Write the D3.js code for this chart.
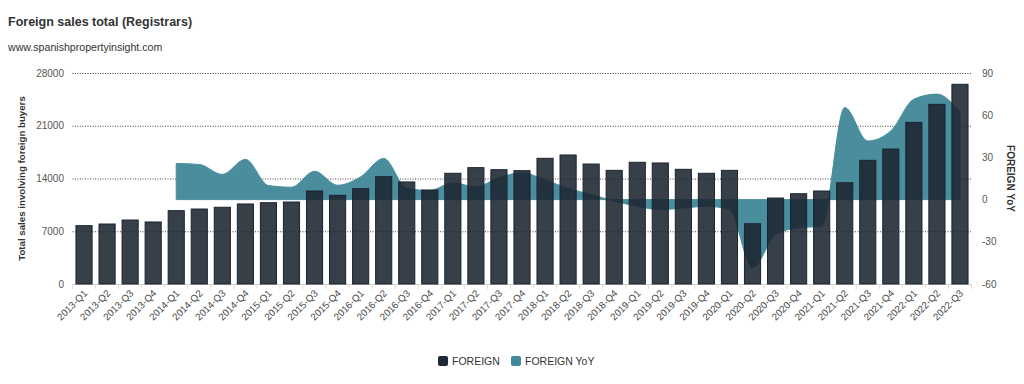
<!DOCTYPE html>
<html>
<head>
<meta charset="utf-8">
<script src="https://cdn.jsdelivr.net/npm/d3@7/dist/d3.min.js"></script>
<style>
  html, body { margin: 0; padding: 0; background: #fff; }
  svg { display: block; font-family: "Liberation Sans", Arial, Helvetica, sans-serif; }
</style>
</head>
<body>
<svg id="chart" width="1024" height="384"></svg>
<script>
const categories = [
  "2013-Q1","2013-Q2","2013-Q3","2013-Q4",
  "2014-Q1","2014-Q2","2014-Q3","2014-Q4",
  "2015-Q1","2015-Q2","2015-Q3","2015-Q4",
  "2016-Q1","2016-Q2","2016-Q3","2016-Q4",
  "2017-Q1","2017-Q2","2017-Q3","2017-Q4",
  "2018-Q1","2018-Q2","2018-Q3","2018-Q4",
  "2019-Q1","2019-Q2","2019-Q3","2019-Q4",
  "2020-Q1","2020-Q2","2020-Q3","2020-Q4",
  "2021-Q1","2021-Q2","2021-Q3","2021-Q4",
  "2022-Q1","2022-Q2","2022-Q3"
];
const foreignSales = [
  7740, 7960, 8490, 8230,
  9730, 9950, 10180, 10620,
  10790, 10880, 12340, 11770,
  12650, 14240, 13540, 12470,
  14690, 15440, 15170, 15040,
  16680, 17120, 15920, 15080,
  16150, 16060, 15220, 14690,
  15080, 8000, 11410, 11980,
  12340, 13440, 16410, 17910,
  21450, 23840, 26500
];
// YoY (%) starts at 2014-Q1
const foreignYoY = [
  null, null, null, null,
  25.7, 25.0, 17.9, 28.6,
  10.0, 8.8, 20.2, 10.2,
  16.2, 29.3, 8.0, 6.5,
  12.0, 9.0, 15.7, 19.0,
  14.0, 8.0, 3.6, -1.0,
  -4.8, -7.1, -6.0, -4.8,
  -7.0, -48.6, -25.0, -20.0,
  -19.0, 65.5, 41.7, 48.8,
  71.4, 75.0, 62.0
];
const leftTicks = [0, 7000, 14000, 21000, 28000];
const rightTicks = [-60, -30, 0, 30, 60, 90];
const seriesNames = ["FOREIGN", "FOREIGN YoY"];

const svg = d3.select("#chart");
const plot = { left: 72.5, right: 971.5, top: 73, bottom: 284 };

const x = d3.scaleBand().domain(categories).range([plot.left, plot.right]).paddingInner(0.3).paddingOuter(0.15);
const yL = d3.scaleLinear().domain([0, 28000]).range([plot.bottom, plot.top]);
const yR = d3.scaleLinear().domain([-60, 90]).range([plot.bottom, plot.top]);

// title
svg.append("text").attr("x", 8).attr("y", 26)
  .attr("font-size", 12.5).attr("font-weight", "bold").attr("fill", "#333")
  .text("Foreign sales total (Registrars)");
svg.append("text").attr("x", 8).attr("y", 51)
  .attr("font-size", 10.6).attr("fill", "#333")
  .text("www.spanishpropertyinsight.com");

// gridlines (dotted)
svg.append("g").selectAll("line").data(leftTicks.filter(d => d > 0)).join("line")
  .attr("x1", plot.left).attr("x2", plot.right)
  .attr("y1", d => yL(d) + 0.5).attr("y2", d => yL(d) + 0.5)
  .attr("stroke", "#444").attr("stroke-width", 1).attr("stroke-dasharray", "1,1.5");

// x-axis baseline
svg.append("line").attr("x1", plot.left).attr("x2", plot.right)
  .attr("y1", plot.bottom + 0.5).attr("y2", plot.bottom + 0.5)
  .attr("stroke", "#ccc");

// x ticks at band boundaries
const step = x.step();
const bounds = categories.map((c, i) => x(c) - (step - x.bandwidth()) / 2);
bounds.push(plot.right);
svg.append("g").selectAll("line").data(bounds).join("line")
  .attr("x1", d => d).attr("x2", d => d)
  .attr("y1", plot.bottom).attr("y2", plot.bottom + 5)
  .attr("stroke", "#ddd");

// YoY area
const yoyData = categories.map((c, i) => ({ c, v: foreignYoY[i] })).filter(d => d.v !== null);
const area = d3.area()
  .x(d => x(d.c) + x.bandwidth() / 2)
  .y0(yR(0))
  .y1(d => yR(d.v))
  .curve(d3.curveMonotoneX);
svg.append("path").datum(yoyData).attr("d", area)
  .attr("fill", "#4a8e9d").attr("stroke", "#4a8e9d").attr("stroke-width", 1);

// bars
svg.append("g").selectAll("rect").data(categories).join("rect")
  .attr("x", d => x(d)).attr("width", x.bandwidth())
  .attr("y", (d, i) => yL(foreignSales[i]))
  .attr("height", (d, i) => yL(0) - yL(foreignSales[i]))
  .attr("fill", "#1b2430").attr("fill-opacity", 0.88)
  .attr("stroke", "#1b2430").attr("stroke-width", 1);

// left axis labels
svg.append("g").selectAll("text").data(leftTicks).join("text")
  .attr("x", 64).attr("y", d => yL(d) + 3.5)
  .attr("text-anchor", "end").attr("font-size", 10).attr("fill", "#555")
  .text(d => d);

// right axis labels
svg.append("g").selectAll("text").data(rightTicks).join("text")
  .attr("x", 982).attr("y", d => yR(d) + 3.5)
  .attr("text-anchor", "start").attr("font-size", 10).attr("fill", "#555")
  .text(d => d);

// axis titles
svg.append("text")
  .attr("transform", `translate(25,${(plot.top + plot.bottom) / 2}) rotate(-90)`)
  .attr("text-anchor", "middle").attr("font-size", 9.7).attr("font-weight", "bold").attr("fill", "#333")
  .text("Total sales involving foreign buyers");
svg.append("text")
  .attr("transform", `translate(1007,${(plot.top + plot.bottom) / 2}) rotate(90)`)
  .attr("text-anchor", "middle").attr("font-size", 10).attr("font-weight", "bold").attr("fill", "#333")
  .text("FOREIGN YoY");

// x labels
svg.append("g").selectAll("text").data(categories).join("text")
  .attr("transform", d => `translate(${x(d) + x.bandwidth() / 2 + 4},${plot.bottom + 10}) rotate(-45)`)
  .attr("text-anchor", "end").attr("font-size", 9.8).attr("fill", "#444")
  .text(d => d);

// legend
const legendColors = ["#1e2836", "#3f8a9b"];
const legendX = [438, 511];
const lg = svg.append("g");
seriesNames.forEach((name, i) => {
  lg.append("rect").attr("x", legendX[i]).attr("y", 356).attr("width", 10).attr("height", 10)
    .attr("rx", 2).attr("fill", legendColors[i]);
  lg.append("text").attr("x", legendX[i] + 14).attr("y", 365)
    .attr("font-size", 10.5).attr("fill", "#333").text(name);
});
</script>
</body>
</html>
